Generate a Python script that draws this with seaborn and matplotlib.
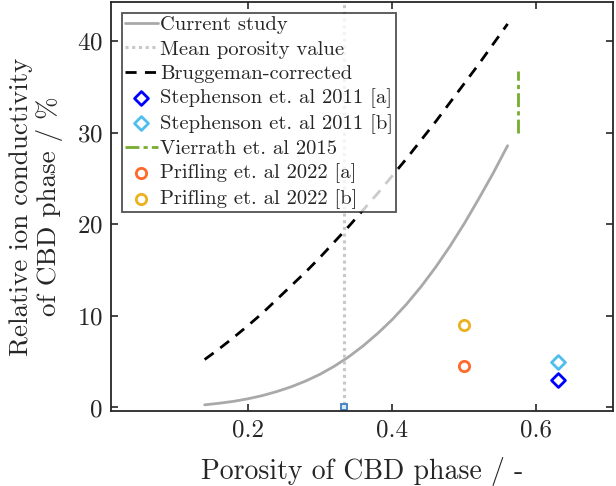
import numpy as np
import pandas as pd
import matplotlib
matplotlib.use("Agg")
import matplotlib.pyplot as plt
import seaborn as sns

# Porosity grid and conductivity curves (%)
porosity = [0.14, 0.16, 0.18, 0.20, 0.22, 0.24, 0.26, 0.28, 0.30, 0.32, 0.34,
            0.36, 0.38, 0.40, 0.42, 0.44, 0.46, 0.48, 0.50, 0.52, 0.54, 0.56]
current_study = [0.29, 0.46, 0.67, 0.95, 1.30, 1.74, 2.26, 2.89, 3.63, 4.52, 5.55,
                 6.75, 8.10, 9.60, 11.3, 13.2, 15.3, 17.6, 20.1, 22.8, 25.6, 28.6]
bruggeman = [5.24, 6.40, 7.64, 8.94, 10.3, 11.8, 13.3, 14.8, 16.4, 18.1, 19.8,
             21.6, 23.4, 25.3, 27.2, 29.2, 31.2, 33.3, 35.4, 37.5, 39.7, 41.9]

mean_porosity = 0.333

# Literature values
stephenson_a = (0.63, 3.0)
stephenson_b = (0.63, 5.0)
vierrath_x = [0.575, 0.575]
vierrath_y = [30.0, 36.8]
prifling_a = (0.50, 4.5)
prifling_b = (0.50, 9.0)

sns.set_theme(style="ticks")
plt.rcParams.update({
    "font.family": ["cmr10", "DejaVu Serif"],
    "axes.formatter.use_mathtext": True,
    "axes.edgecolor": "#262626",
    "axes.linewidth": 1.3,
    "xtick.direction": "in",
    "ytick.direction": "in",
    "xtick.top": True,
    "ytick.right": True,
    "xtick.major.size": 5,
    "ytick.major.size": 5,
    "xtick.major.width": 1.2,
    "ytick.major.width": 1.2,
    "xtick.color": "#262626",
    "ytick.color": "#262626",
})

fig, ax = plt.subplots(figsize=(6.16, 4.86), dpi=100)
fig.subplots_adjust(left=0.180, right=0.995, top=0.996, bottom=0.154)

curves = pd.DataFrame({"porosity": porosity, "current": current_study, "brug": bruggeman})

sns.lineplot(data=curves, x="porosity", y="current", ax=ax, color="#A9A9A9",
             lw=2.0, label="Current study")
ax.axvline(mean_porosity, color="#C8C8C8", lw=2.2, ls=(0, (1, 1.2)),
           label="Mean porosity value")
sns.lineplot(data=curves, x="porosity", y="brug", ax=ax, color="black",
             lw=2.0, ls=(0, (4, 3)), label="Bruggeman-corrected")

sns.scatterplot(x=[stephenson_a[0]], y=[stephenson_a[1]], ax=ax, marker="D",
                s=50, facecolor="white", edgecolor="#0000FF", linewidth=2,
                label="Stephenson et. al 2011 [a]")
sns.scatterplot(x=[stephenson_b[0]], y=[stephenson_b[1]], ax=ax, marker="D",
                s=50, facecolor="white", edgecolor="#4DBEEE", linewidth=2,
                label="Stephenson et. al 2011 [b]")
sns.lineplot(x=vierrath_x, y=vierrath_y, ax=ax, color="#77AC30", lw=2.0,
             estimator=None, sort=False,
             ls=(0, (5, 1.5, 1.5, 1.5)), label="Vierrath et. al 2015")
sns.scatterplot(x=[prifling_a[0]], y=[prifling_a[1]], ax=ax, marker="o",
                s=55, facecolor="white", edgecolor="#FF6929", linewidth=2,
                label="Prifling et. al 2022 [a]")
sns.scatterplot(x=[prifling_b[0]], y=[prifling_b[1]], ax=ax, marker="o",
                s=55, facecolor="white", edgecolor="#EDB120", linewidth=2,
                label="Prifling et. al 2022 [b]")

# mean-porosity marker on the baseline
ax.plot([mean_porosity], [0.0], marker="s", ms=4.5, mfc="#D6EAF8",
        mec="#3E7FC1", mew=1.3, ls="none")

ax.set_xlim(0.01, 0.706)
ax.set_ylim(-0.4, 44.3)
ax.set_xticks([0.2, 0.4, 0.6])
ax.set_xticklabels(["0.2", "0.4", "0.6"])
ax.set_yticks([0, 10, 20, 30, 40])
ax.tick_params(labelsize=18, pad=6)

ax.set_xlabel("Porosity of CBD phase / -", fontsize=20, labelpad=11)
ax.set_ylabel("Relative ion conductivity\nof CBD phase / %", fontsize=19.5,
              labelpad=10, linespacing=1.12)

leg = ax.legend(loc="upper left", bbox_to_anchor=(11 / 502, 1 - 11 / 409),
                fontsize=14.8, frameon=True, fancybox=False, edgecolor="#262626",
                handlelength=1.6, handletextpad=0.1, labelspacing=0.28,
                borderpad=0.15, borderaxespad=0.0)
leg.get_frame().set_linewidth(1.3)

fig.savefig("out.png", dpi=100)
